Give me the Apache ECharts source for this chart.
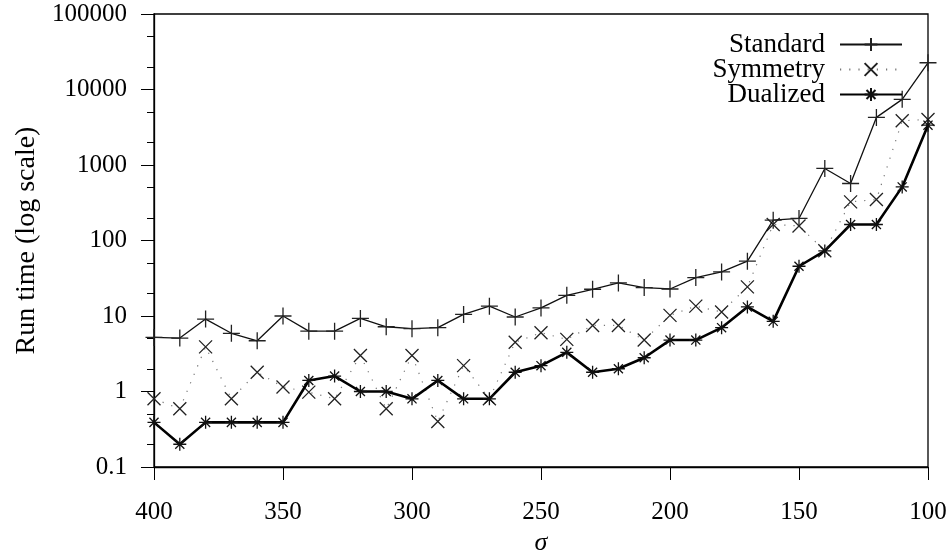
<!DOCTYPE html>
<html>
<head>
<meta charset="utf-8">
<script src="https://cdn.jsdelivr.net/npm/echarts@6/dist/echarts.min.js"></script>
<style>
  html, body { margin: 0; padding: 0; background: #fff; }
  #chart { width: 948px; height: 556px; }
</style>
</head>
<body>
<div id="chart"></div>
<script>
// sigma values
var sigma = [400, 390, 380, 370, 360, 350, 340, 330, 320, 310, 300, 290, 280, 270, 260,
             250, 240, 230, 220, 210, 200, 190, 180, 170, 160, 150, 140, 130, 120, 110, 100];

// run times (log scale)
var standard = [5.2, 5.1, 9.1, 5.9, 4.7, 10, 6.3, 6.3, 9.3, 7.2, 6.8, 7.0, 10.5, 13.5, 9.7,
                12.8, 18.8, 22.6, 27.4, 23.8, 22.8, 32.3, 38.4, 53.2, 186, 196, 900, 569, 4270, 7400, 22600];
var symmetry = [0.8, 0.59, 3.9, 0.8, 1.8, 1.15, 0.98, 0.8, 3.0, 0.59, 3.0, 0.4, 2.2, 0.8, 4.5,
                6.0, 4.9, 7.5, 7.5, 4.8, 10.2, 13.5, 11.3, 24.3, 163, 156, 73, 325, 349, 3850, 4010];
var dualized = [0.39, 0.2, 0.39, 0.39, 0.39, 0.39, 1.4, 1.6, 1.0, 1.0, 0.8, 1.4, 0.8, 0.8, 1.8,
                2.2, 3.3, 1.8, 2.0, 2.8, 4.8, 4.8, 7.0, 13.2, 8.5, 45.6, 72.8, 163, 163, 513, 3370];

var seriesNames = ['Standard', 'Symmetry', 'Dualized'];

// minor ticks of the log axis (2 and 5 of each decade)
var minorTicks = [0.2, 0.5, 2, 5, 20, 50, 200, 500, 2000, 5000, 20000, 50000];

var FONT = '"Liberation Serif", "DejaVu Serif", serif';

// gnuplot-like point types
var plusSym = 'path://M8,0L8,16M0,8L16,8';
var crossSym = 'path://M0,0L12,12M12,0L0,12';
var starSym = 'path://M6,0L6,12M0,6L12,6M1.8,1.8L10.2,10.2M10.2,1.8L1.8,10.2';

function pairs(ys) {
    return sigma.map(function (s, i) { return [s, ys[i]]; });
}

function fmt(v) {
    return String(Number(v.toPrecision(4)));
}

var chartDom = document.getElementById('chart');
var myChart = echarts.init(chartDom);

var option = {
    animation: false,
    backgroundColor: '#fff',
    grid: {
        left: 154, right: 20, top: 14, bottom: 89,
        outerBoundsMode: 'none',
        containLabel: false,
        show: true, borderColor: '#000', borderWidth: 1.3
    },
    legend: {
        data: seriesNames,
        orient: 'vertical',
        align: 'right',
        right: 40,
        top: 26,
        itemWidth: 62,
        itemHeight: 16,
        itemGap: -2,
        selectedMode: false,
        textStyle: {
            fontFamily: FONT, fontSize: 27, color: '#000',
            lineHeight: 25, padding: [0, 10, 0, 0]
        }
    },
    xAxis: {
        type: 'value',
        min: 100, max: 400, interval: 50,
        inverse: true,
        name: 'σ',
        nameLocation: 'middle',
        nameGap: 62,
        nameTextStyle: { fontFamily: FONT, fontSize: 26, fontStyle: 'italic', color: '#000' },
        axisLine: { onZero: false, lineStyle: { color: '#000', width: 1.3 } },
        axisTick: { length: 13, lineStyle: { color: '#000', width: 1 } },
        axisLabel: { fontFamily: FONT, fontSize: 25, color: '#000', margin: 33 },
        splitLine: { show: false }
    },
    yAxis: [
        {
            type: 'log',
            logBase: 10,
            min: 0.1, max: 100000,
            splitNumber: 6,
            name: 'Run time (log scale)',
            nameLocation: 'middle',
            nameGap: 112,
            nameTextStyle: { fontFamily: FONT, fontSize: 28, color: '#000' },
            axisLine: { lineStyle: { color: '#000', width: 1.3 } },
            axisTick: { length: 13, lineStyle: { color: '#000', width: 1 } },
            axisLabel: { fontFamily: FONT, fontSize: 25, color: '#000', margin: 27, formatter: fmt },
            splitLine: { show: false }
        },
        {
            // overlay axis in log10 units that only draws the short minor ticks
            type: 'value',
            min: -1, max: 5, interval: 1,
            position: 'left',
            axisLine: { show: false, onZero: false },
            axisTick: {
                show: true, length: 7,
                customValues: minorTicks.map(Math.log10),
                lineStyle: { color: '#000', width: 1 }
            },
            axisLabel: { show: false },
            splitLine: { show: false }
        }
    ],
    series: [
        {
            name: 'Standard',
            type: 'line',
            data: pairs(standard),
            symbol: plusSym,
            symbolSize: 17,
            showAllSymbol: true,
            lineStyle: { color: '#111', width: 1.3 },
            itemStyle: { color: 'transparent', borderColor: '#222', borderWidth: 1.3 },
            emphasis: { disabled: true },
            z: 3
        },
        {
            name: 'Symmetry',
            type: 'line',
            data: pairs(symmetry),
            symbol: crossSym,
            symbolSize: 13,
            showAllSymbol: true,
            lineStyle: { color: '#777', width: 1.2, type: [1.2, 8] },
            itemStyle: { color: 'transparent', borderColor: '#222', borderWidth: 1.3 },
            emphasis: { disabled: true },
            z: 2
        },
        {
            name: 'Dualized',
            type: 'line',
            data: pairs(dualized),
            symbol: starSym,
            symbolSize: 13,
            showAllSymbol: true,
            lineStyle: { color: '#000', width: 2.6 },
            itemStyle: { color: 'transparent', borderColor: '#111', borderWidth: 1.3 },
            emphasis: { disabled: true },
            z: 4
        }
    ]
};

myChart.setOption(option);

window.addEventListener('resize', function () {
    myChart.resize();
});
</script>
</body>
</html>
